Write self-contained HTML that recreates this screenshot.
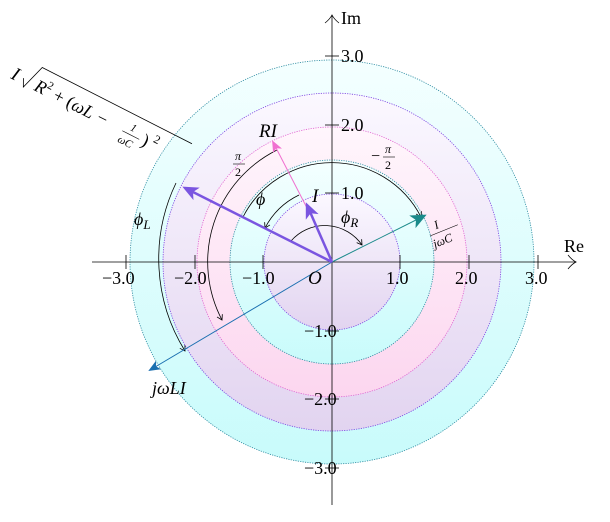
<!DOCTYPE html>
<html><head><meta charset="utf-8"><style>
body{margin:0;background:#fff}
svg{display:block;font-family:"Liberation Serif",serif}
.it{font-style:italic}
</style></head><body>
<svg width="610" height="522" viewBox="0 0 610 522" xmlns="http://www.w3.org/2000/svg">
<defs>
<linearGradient id="cy" x1="0" y1="0" x2="0" y2="1"><stop offset="0" stop-color="#f4ffff"/><stop offset="1" stop-color="#c8fbfb"/></linearGradient>
<linearGradient id="lv" x1="0" y1="0" x2="0" y2="1"><stop offset="0" stop-color="#fbf8ff"/><stop offset="1" stop-color="#e2d4f0"/></linearGradient>
<linearGradient id="pk" x1="0" y1="0" x2="0" y2="1"><stop offset="0" stop-color="#fff6fc"/><stop offset="1" stop-color="#fcd6ef"/></linearGradient>
<marker id="ah" markerWidth="12" markerHeight="12" refX="10" refY="6" orient="auto" markerUnits="userSpaceOnUse"><path d="M0,1 L12,6 L0,11 L3,6z" fill="context-stroke"/></marker>
<marker id="ah2" markerWidth="16" markerHeight="16" refX="13" refY="8" orient="auto" markerUnits="userSpaceOnUse"><path d="M0,1 L16,8 L0,15 L4,8z" fill="context-stroke"/></marker>
<marker id="sa" markerWidth="8" markerHeight="8" refX="6" refY="4" orient="auto" markerUnits="userSpaceOnUse"><path d="M1,1 L6,4 L1,7" fill="none" stroke="#000" stroke-width="0.8"/></marker>
</defs>
<g stroke-dasharray="1.2 1.2" stroke-width="0.8">
<circle cx="332" cy="262" r="202" fill="url(#cy)" stroke="#2a8aa0"/>
<circle cx="332" cy="262" r="169" fill="url(#lv)" stroke="#7a3ee0"/>
<circle cx="332" cy="262" r="135" fill="url(#pk)" stroke="#e060d0"/>
<circle cx="332" cy="262" r="102" fill="url(#cy)" stroke="#2a8aa0"/>
<circle cx="332" cy="262" r="68" fill="url(#lv)" stroke="#7a3ee0"/>
</g>
<g stroke="#000" stroke-width="0.8" fill="none">
<line x1="92" y1="262" x2="576" y2="262"/>
<path d="M568,255 Q572,260 576,262 Q572,264 568,269"/>
<line x1="332" y1="505" x2="332" y2="15"/>
<path d="M325,23 Q330,19 332,15 Q334,19 339,23"/>
</g>
<g stroke="#000" stroke-width="0.8">
<line x1="126" y1="255" x2="126" y2="269"/><line x1="195" y1="255" x2="195" y2="269"/><line x1="263" y1="255" x2="263" y2="269"/>
<line x1="400" y1="255" x2="400" y2="269"/><line x1="469" y1="255" x2="469" y2="269"/><line x1="538" y1="255" x2="538" y2="269"/>
<line x1="325" y1="56" x2="339" y2="56"/><line x1="325" y1="125" x2="339" y2="125"/><line x1="325" y1="193" x2="339" y2="193"/>
<line x1="325" y1="331" x2="339" y2="331"/><line x1="325" y1="399" x2="339" y2="399"/><line x1="325" y1="468" x2="339" y2="468"/>
</g>
<g font-size="18" fill="#000">
<text x="102" y="284">−3.0</text><text x="174" y="284">−2.0</text><text x="242" y="284">−1.0</text>
<text x="386" y="284">1.0</text><text x="455" y="284">2.0</text><text x="525" y="284">3.0</text>
<text x="341" y="62">3.0</text><text x="341" y="131">2.0</text><text x="341" y="199">1.0</text>
<text x="304" y="337">−1.0</text><text x="304" y="405">−2.0</text><text x="304" y="474">−3.0</text>
<text x="564" y="252">Re</text><text x="341" y="24">Im</text>
</g>
<g fill="none" stroke="#000" stroke-width="0.8" marker-end="url(#sa)">
<path d="M291,241 A45,45 0 0 1 362,245"/>
<path d="M299,195 A75,75 0 0 0 265,228"/>
<path d="M243,217 A100,100 0 0 1 421,217"/>
<path d="M277,150 A125,125 0 0 0 222,320"/>
<path d="M176,183 A175,175 0 0 0 185,351"/>
</g>
<line x1="332" y1="262" x2="150" y2="370" stroke="#1a6fb0" stroke-width="1" marker-end="url(#ah)"/>
<line x1="332" y1="262" x2="424" y2="216" stroke="#1a8a8a" stroke-width="1" marker-end="url(#ah2)"/>
<line x1="307" y1="208" x2="273" y2="142" stroke="#f070d0" stroke-width="1" marker-end="url(#ah)"/>
<line x1="332" y1="262" x2="185" y2="188" stroke="#7a55e0" stroke-width="2.5" marker-end="url(#ah2)"/>
<line x1="332" y1="262" x2="307" y2="205" stroke="#7a55e0" stroke-width="2.5" marker-end="url(#ah2)"/>
<g fill="#000">
<text x="308" y="284" font-size="19" class="it">O</text>
<text x="259" y="137" font-size="19" class="it">RI</text>
<text x="312" y="202" font-size="19" class="it">I</text>
<text x="341" y="223" font-size="18" class="it">ϕ<tspan font-size="13" dy="4">R</tspan></text>
<text x="256" y="205" font-size="18" class="it">ϕ</text>
<text x="134" y="225" font-size="18" class="it">ϕ<tspan font-size="13" dy="4">L</tspan></text>
<text x="235" y="160" font-size="12" class="it">π</text><line x1="233" y1="164" x2="245" y2="164" stroke="#000" stroke-width="0.6"/><text x="235" y="176" font-size="12">2</text>
<text x="371" y="161" font-size="16">−</text><text x="385" y="153" font-size="12" class="it">π</text><line x1="383" y1="157" x2="395" y2="157" stroke="#000" stroke-width="0.6"/><text x="385" y="169" font-size="12">2</text>
<g transform="translate(430,236) rotate(-22)"><text x="8" y="-4" font-size="12" class="it">I</text><line x1="0" y1="0" x2="30" y2="0" stroke="#000" stroke-width="0.6"/><text x="0" y="13" font-size="12" class="it">jωC</text></g>
<text x="152" y="394" font-size="18" class="it">jωLI</text>
<g transform="translate(10,78) rotate(27)">
<text x="0" y="0" font-size="19" class="it">I</text>
<path d="M12,-6 L16,2 L24,-24 L192,-24" fill="none" stroke="#000" stroke-width="0.8"/>
<text x="26" y="0" font-size="18" class="it">R<tspan font-size="11" dy="-8" font-style="normal">2</tspan><tspan dy="8" font-style="normal"> + (</tspan>ωL − </text>
<text x="130" y="-8" font-size="11" class="it">1</text><line x1="124" y1="-4" x2="143" y2="-4" stroke="#000" stroke-width="0.6"/><text x="124" y="8" font-size="11" class="it">ωC</text>
<text x="146" y="0" font-size="18">)</text><text x="156" y="-8" font-size="12">2</text>
</g>
</g>
</svg>
</body></html>
